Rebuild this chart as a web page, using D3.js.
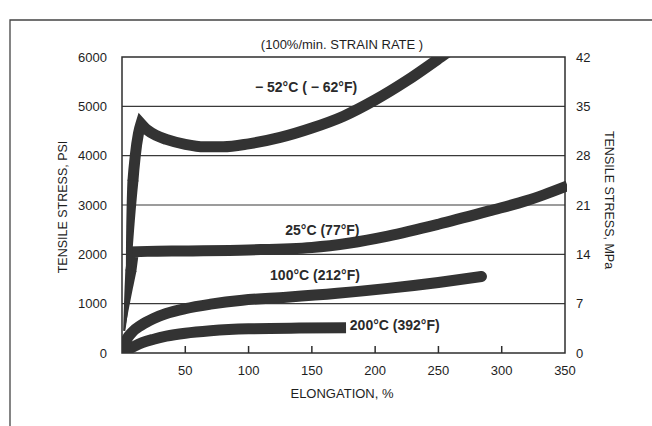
<!DOCTYPE html>
<html>
<head>
<meta charset="utf-8">
<script src="https://cdn.jsdelivr.net/npm/d3@7"></script>
<style>
  html, body { margin: 0; padding: 0; background: #fff; }
  svg { display: block; font-family: "Liberation Sans", Arial, Helvetica, sans-serif; }
</style>
</head>
<body>
<svg id="chart" width="652" height="426"></svg>
<script>
// Axis ticks
const elongTicks = [50, 100, 150, 200, 250, 300, 350];
const psiTicks = [0, 1000, 2000, 3000, 4000, 5000, 6000];
const mpaTicks = [0, 7, 14, 21, 28, 35, 42];

// Stress–strain curves: [elongation %, tensile stress psi]
const minus52Rise = [[2, 450], [4.5, 1250], [6, 2250], [8, 3250], [10.5, 4000], [13, 4450], [15, 4650]];
const minus52Fall = [[15, 4650], [20, 4520], [27, 4410], [35, 4330], [50, 4230], [65, 4180], [80, 4180], [100, 4240], [125, 4370], [150, 4560], [175, 4800], [200, 5130], [225, 5520], [252, 6000], [258, 6110]];
const room25Rise = [[1.5, 450], [5, 1250], [9, 2050]];
const room25Main = [[9, 2050], [20, 2060], [50, 2070], [100, 2090], [150, 2140], [180, 2230], [210, 2370], [250, 2610], [290, 2880], [320, 3090], [352, 3390]];
const hot100 = [[1.5, 30], [3, 230], [8, 420], [15, 560], [25, 700], [35, 800], [50, 900], [70, 990], [95, 1070], [130, 1130], [170, 1210], [210, 1310], [250, 1430], [284, 1550]];
const hot200 = [[1.5, 30], [4, 60], [10, 140], [16, 210], [25, 280], [35, 340], [50, 400], [70, 450], [100, 490], [140, 505], [177, 510]];

// Curve captions, anchored at [elongation %, psi]
const captionText = ["\u2212 52°C ( \u2212 62°F)", "25°C (77°F)", "100°C (212°F)", "200°C (392°F)"];
const captionAt = [[105, 5290], [129, 2390], [117, 1480], [180, 466]];

const ink = "#333";
const textInk = "#1e1e1e";

const svg = d3.select("#chart");
const plot = { left: 122, right: 565, top: 57, bottom: 353 };

const x = d3.scaleLinear().domain([0, 350]).range([plot.left, plot.right]);
const y = d3.scaleLinear().domain([0, 6000]).range([plot.bottom, plot.top]);
const yMpa = d3.scaleLinear().domain([0, 42]).range([plot.bottom, plot.top]);

// Outer frame (top and left edges)
svg.append("path")
  .attr("d", "M10,426V20H652")
  .attr("fill", "none").attr("stroke", "#444").attr("stroke-width", 1.3);

// Horizontal grid lines
svg.append("g").selectAll("line").data(psiTicks.slice(1, -1)).join("line")
  .attr("x1", plot.left).attr("x2", plot.right)
  .attr("y1", d => y(d)).attr("y2", d => y(d))
  .attr("stroke", "#3a3a3a").attr("stroke-width", 1.2);

// Plot border
svg.append("rect")
  .attr("x", plot.left).attr("y", plot.top)
  .attr("width", plot.right - plot.left).attr("height", plot.bottom - plot.top)
  .attr("fill", "none").attr("stroke", "#2e2e2e").attr("stroke-width", 1.5);

// Inward tick marks on the elongation axis
svg.append("g").selectAll("line").data(elongTicks.filter(d => d < 350)).join("line")
  .attr("x1", d => x(d)).attr("x2", d => x(d))
  .attr("y1", plot.bottom).attr("y2", plot.bottom - 7)
  .attr("stroke", "#2e2e2e").attr("stroke-width", 1.5);

// Tick labels
const tickFont = 13;
svg.append("g").selectAll("text").data(psiTicks).join("text")
  .attr("x", 107).attr("y", d => y(d)).attr("dy", "0.35em")
  .attr("text-anchor", "end").attr("font-size", tickFont).attr("fill", textInk)
  .text(d => d);

svg.append("g").selectAll("text").data(mpaTicks).join("text")
  .attr("x", 576).attr("y", d => yMpa(d)).attr("dy", "0.35em")
  .attr("text-anchor", "start").attr("font-size", tickFont).attr("fill", textInk)
  .text(d => d);

svg.append("g").selectAll("text").data(elongTicks).join("text")
  .attr("x", d => x(d)).attr("y", 370).attr("dy", "0.35em")
  .attr("text-anchor", "middle").attr("font-size", tickFont).attr("fill", textInk)
  .text(d => d);

// Axis titles
svg.append("text")
  .attr("x", 342).attr("y", 393).attr("dy", "0.35em")
  .attr("text-anchor", "middle").attr("font-size", 13).attr("fill", textInk)
  .text("ELONGATION, %");

svg.append("text")
  .attr("transform", "translate(63,207) rotate(-90)").attr("dy", "0.35em")
  .attr("text-anchor", "middle").attr("font-size", 12.5).attr("fill", textInk)
  .text("TENSILE STRESS, PSI");

svg.append("text")
  .attr("transform", "translate(609,200) rotate(90)").attr("dy", "0.35em")
  .attr("text-anchor", "middle").attr("font-size", 12.5).attr("fill", textInk)
  .text("TENSILE STRESS, MPa");

svg.append("text")
  .attr("x", 342).attr("y", 44).attr("dy", "0.35em")
  .attr("text-anchor", "middle").attr("font-size", 13).attr("fill", textInk)
  .text("(100%/min. STRAIN RATE )");

// Curves, clipped to the plotting area
svg.append("clipPath").attr("id", "plot-clip")
  .append("rect")
  .attr("x", plot.left).attr("y", plot.top)
  .attr("width", plot.right - plot.left + 2).attr("height", plot.bottom - plot.top);

const curves = svg.append("g").attr("clip-path", "url(#plot-clip)");

const smooth = d3.line().x(d => x(d[0])).y(d => y(d[1])).curve(d3.curveMonotoneX);
// Two smooth pieces sharing a corner point, as one path (the second piece's moveto is dropped)
const joined = (a, b) => smooth(a) + smooth(b).replace(/^M[^A-Za-z]*/, "");

const WIDTH = 11;

// A curve whose first stretch widens from a fine point to the full stroke width
function taperedCurve(d, wStart, taperLen) {
  const full = curves.append("path")
    .attr("d", d).attr("fill", "none")
    .attr("stroke", ink).attr("stroke-width", WIDTH)
    .attr("stroke-linejoin", "miter").attr("stroke-miterlimit", 2.2)
    .attr("stroke-linecap", "butt");
  const node = full.node();
  const total = node.getTotalLength();
  full.attr("stroke-dasharray", `0 ${taperLen} ${total} 0`);

  const n = 48, lhs = [], rhs = [];
  const end = taperLen + 1;
  for (let i = 0; i <= n; i++) {
    const s = end * i / n;
    const p = node.getPointAtLength(s);
    const a = node.getPointAtLength(Math.max(0, s - 0.6));
    const b = node.getPointAtLength(Math.min(total, s + 0.6));
    const dx = b.x - a.x, dy = b.y - a.y, len = Math.hypot(dx, dy) || 1;
    const nx = -dy / len, ny = dx / len;
    const w = wStart + (WIDTH - wStart) * Math.min(1, s / taperLen);
    lhs.push([p.x + nx * w / 2, p.y + ny * w / 2]);
    rhs.push([p.x - nx * w / 2, p.y - ny * w / 2]);
  }
  const pts = lhs.concat(rhs.reverse());
  curves.append("path")
    .attr("d", "M" + pts.map(q => q.join(",")).join("L") + "Z")
    .attr("fill", ink);
}

function plainCurve(data, cap) {
  curves.append("path")
    .attr("d", smooth(data)).attr("fill", "none")
    .attr("stroke", ink).attr("stroke-width", WIDTH)
    .attr("stroke-linejoin", "round").attr("stroke-linecap", cap);
}

plainCurve(hot200, "butt");
plainCurve(hot100, "round");
taperedCurve(joined(room25Rise, room25Main), 1.5, 60);
taperedCurve(joined(minus52Rise, minus52Fall), 1.5, 150);

// Curve captions
svg.append("g").selectAll("text").data(captionText).join("text")
  .attr("x", (d, i) => x(captionAt[i][0]))
  .attr("y", (d, i) => y(captionAt[i][1]))
  .attr("font-size", 14).attr("font-weight", "bold").attr("fill", "#2a2a2a")
  .text(d => d);
</script>
</body>
</html>
